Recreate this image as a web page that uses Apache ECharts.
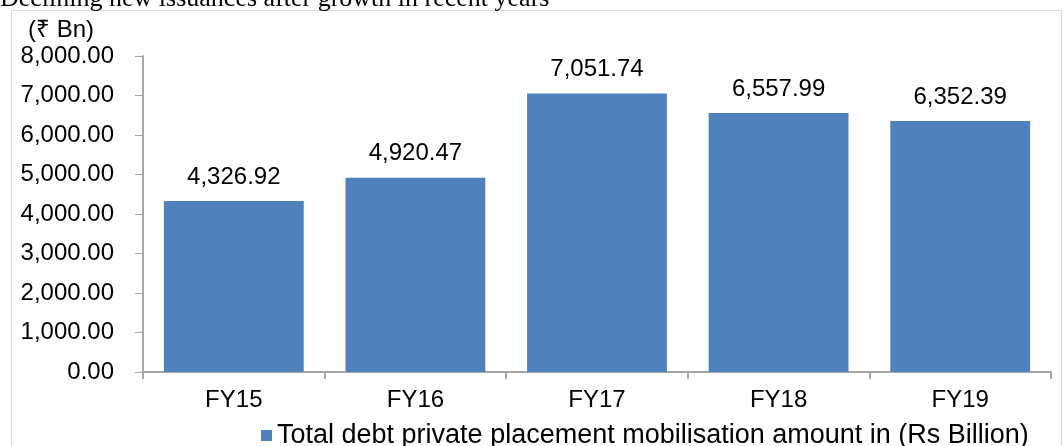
<!DOCTYPE html>
<html>
<head>
<meta charset="utf-8">
<script src="https://cdn.jsdelivr.net/npm/echarts@6/dist/echarts.min.js"></script>
<style>
  html, body { margin: 0; padding: 0; background: #fff; }
  #container { width: 1063px; height: 446px; }
</style>
</head>
<body>
<div id="container"></div>
<script>
var years = ['FY15', 'FY16', 'FY17', 'FY18', 'FY19'];
var amounts = [4326.92, 4920.47, 7051.74, 6557.99, 6352.39];
var seriesName = 'Total debt private placement mobilisation amount in (Rs Billion)';

function fmt(v) {
    return v.toLocaleString('en-US', { minimumFractionDigits: 2, maximumFractionDigits: 2 });
}

var chartDom = document.getElementById('container');
var myChart = echarts.init(chartDom);
var font = 'Liberation Sans, Arial, sans-serif';

var option = {
    animation: false,
    graphic: [
        {
            type: 'rect',
            shape: { x: 11.5, y: 10.5, width: 1050, height: 450 },
            style: { fill: 'none', stroke: '#d9d9d9', lineWidth: 1 }
        },
        {
            type: 'text',
            x: 0, y: 12,
            style: {
                text: 'Declining new issuances after growth in recent years',
                font: '26px "Liberation Serif", "Times New Roman", serif',
                fill: '#000',
                verticalAlign: 'bottom'
            }
        },
        {
            type: 'text',
            x: 28, y: 30,
            style: {
                text: '(₹ Bn)',
                font: '24px ' + font,
                fill: '#000',
                verticalAlign: 'middle'
            }
        }
    ],
    legend: {
        left: 256,
        top: 417,
        itemWidth: 11,
        itemHeight: 11,
        icon: 'rect',
        textStyle: { fontSize: 27, fontFamily: font, color: '#000' },
        data: [seriesName]
    },
    grid: { left: 143, right: 12, top: 56, bottom: 74 },
    xAxis: {
        type: 'category',
        data: years,
        axisLine: { lineStyle: { color: '#a6a6a6', width: 2 } },
        axisTick: { show: true, length: 7, lineStyle: { color: '#a6a6a6', width: 2 } },
        axisLabel: { fontSize: 24, fontFamily: font, color: '#000', margin: 16 }
    },
    yAxis: {
        type: 'value',
        min: 0,
        max: 8000,
        interval: 1000,
        axisLine: { show: true, lineStyle: { color: '#a6a6a6', width: 2 } },
        axisTick: { show: true, length: 8, lineStyle: { color: '#a6a6a6', width: 1 } },
        splitLine: { show: false },
        axisLabel: {
            fontSize: 24, fontFamily: font, color: '#000', margin: 29,
            formatter: function (v) { return fmt(v); }
        }
    },
    series: [
        {
            name: seriesName,
            type: 'bar',
            barWidth: '77%',
            data: amounts,
            itemStyle: { color: '#4f81bd' },
            label: {
                show: true,
                position: 'top',
                distance: 12,
                fontSize: 24,
                fontFamily: font,
                color: '#000',
                formatter: function (p) { return fmt(p.value); }
            }
        }
    ]
};

myChart.setOption(option);
</script>
</body>
</html>
